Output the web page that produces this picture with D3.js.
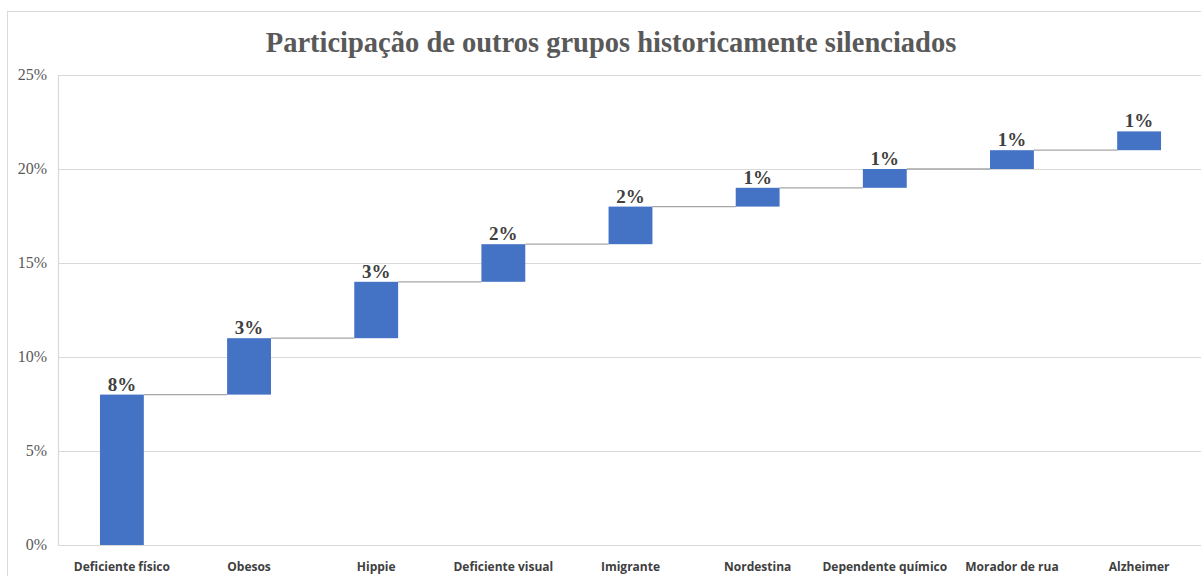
<!DOCTYPE html>
<html>
<head>
<meta charset="utf-8">
<script src="https://cdn.jsdelivr.net/npm/d3@7"></script>
<style>
  body { margin: 0; background: #fff; }
  svg { display: block; }
</style>
</head>
<body>
<div id="chart"></div>
<script>
var width = 1201
var height = 576

var categories = ['Deficiente físico', 'Obesos', 'Hippie', 'Deficiente visual', 'Imigrante',
                  'Nordestina', 'Dependente químico', 'Morador de rua', 'Alzheimer']
var values = [8, 3, 3, 2, 2, 1, 1, 1, 1]
var yTicks = [0, 5, 10, 15, 20, 25]

// running totals for the waterfall
var start = 0
var steps = values.map(function(v, i) {
    var s = { name: categories[i], value: v, y0: start, y1: start + v }
    start += v
    return s
})

var plot = { left: 58, right: 1203, top: 75, bottom: 545 }

var x = d3.scaleBand()
    .domain(categories)
    .range([plot.left, plot.right])
    .paddingInner(0.655)
    .paddingOuter(0.33)

var y = d3.scaleLinear()
    .domain([0, 25])
    .range([plot.bottom, plot.top])

var svg = d3.select('#chart').append('svg')
    .attr('width', width)
    .attr('height', height)

// outer chart frame
svg.append('rect')
    .attr('x', 7.5).attr('y', 11.5)
    .attr('width', 1220).attr('height', 600)
    .attr('fill', 'none')
    .attr('stroke', '#d9d9d9')

svg.append('text')
    .attr('x', 611).attr('y', 52)
    .attr('text-anchor', 'middle')
    .attr('font-family', 'Liberation Serif, serif')
    .attr('font-weight', 'bold')
    .attr('font-size', 28.5)
    .attr('fill', '#595959')
    .text('Participação de outros grupos historicamente silenciados')

// gridlines + y labels
var grid = svg.append('g')
grid.selectAll('line')
    .data(yTicks)
    .enter().append('line')
    .attr('x1', plot.left).attr('x2', plot.right)
    .attr('y1', d => Math.round(y(d)) + 0.5)
    .attr('y2', d => Math.round(y(d)) + 0.5)
    .attr('stroke', '#d9d9d9')
    .attr('stroke-width', 1.2)

grid.selectAll('text')
    .data(yTicks)
    .enter().append('text')
    .attr('x', 47)
    .attr('y', d => y(d) + 5)
    .attr('text-anchor', 'end')
    .attr('font-family', 'Liberation Serif, serif')
    .attr('font-size', 16)
    .attr('fill', '#595959')
    .text(d => d + '%')

svg.append('line')
    .attr('x1', plot.left + 0.5).attr('x2', plot.left + 0.5)
    .attr('y1', plot.top).attr('y2', plot.bottom)
    .attr('stroke', '#d9d9d9')
    .attr('stroke-width', 1.2)

// connectors
svg.append('g').selectAll('line')
    .data(steps.slice(0, -1))
    .enter().append('line')
    .attr('x1', d => x(d.name) + x.bandwidth())
    .attr('x2', (d, i) => x(categories[i + 1]))
    .attr('y1', d => y(d.y1))
    .attr('y2', d => y(d.y1))
    .attr('stroke', '#a6a6a6')
    .attr('stroke-width', 1.3)

// bars
svg.append('g').selectAll('rect')
    .data(steps)
    .enter().append('rect')
    .attr('x', d => x(d.name))
    .attr('y', d => y(d.y1))
    .attr('width', x.bandwidth())
    .attr('height', d => y(d.y0) - y(d.y1))
    .attr('fill', '#4472c4')

// value labels
svg.append('g').selectAll('text')
    .data(steps)
    .enter().append('text')
    .attr('x', d => x(d.name) + x.bandwidth() / 2)
    .attr('y', d => y(d.y1) - 4)
    .attr('text-anchor', 'middle')
    .attr('font-family', 'Liberation Serif, serif')
    .attr('font-weight', 'bold')
    .attr('font-size', 19)
    .attr('fill', '#404040')
    .text(d => d.value + '%')

// category labels
svg.append('g').selectAll('text')
    .data(categories)
    .enter().append('text')
    .attr('x', d => x(d) + x.bandwidth() / 2)
    .attr('y', 571)
    .attr('text-anchor', 'middle')
    .attr('font-family', 'Open Sans, sans-serif')
    .attr('font-weight', 'bold')
    .attr('font-size', 12)
    .attr('fill', '#404040')
    .text(d => d)
</script>
</body>
</html>
